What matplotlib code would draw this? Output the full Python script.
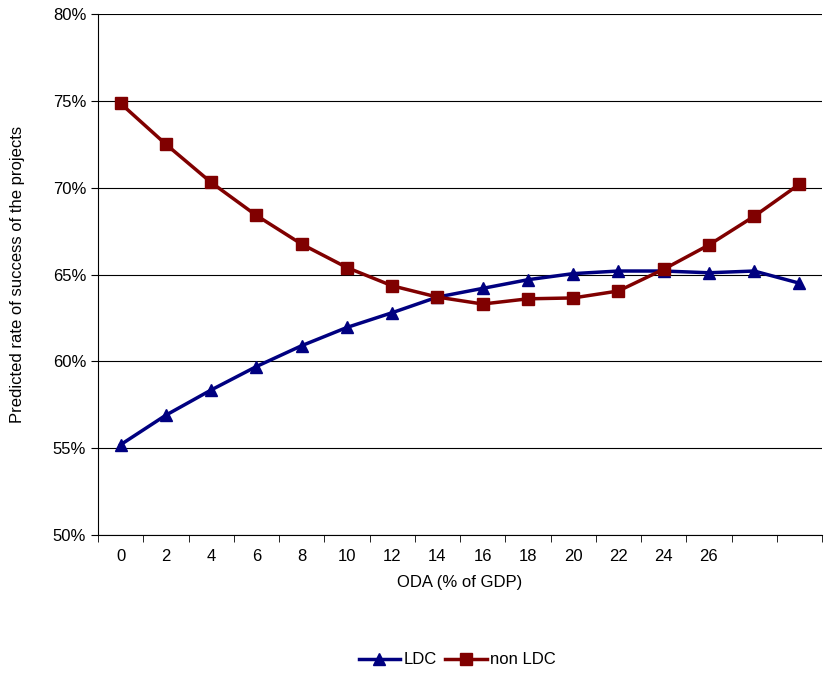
import matplotlib.pyplot as plt
import numpy as np

plt.rcParams['font.family'] = ['Liberation Sans', 'DejaVu Sans']

xlabels = ['0', '2', '4', '6', '8', '10', '12', '14', '16', '18', '20', '22', '24', '26', '', '']
ldc = [55.2, 56.9, 58.35, 59.7, 60.9, 61.95, 62.8, 63.7, 64.2, 64.7, 65.05, 65.2, 65.2, 65.1, 65.2, 64.5]
non_ldc = [74.85, 72.5, 70.3, 68.4, 66.75, 65.4, 64.35, 63.7, 63.3, 63.6, 63.65, 64.05, 65.3, 66.7, 68.35, 70.2]

fig = plt.figure(figsize=(8.24, 6.73), dpi=100)
ax = fig.add_axes([98/824, 1 - 535/673, 724/824, 521/673])

x = np.arange(len(ldc))
ax.plot(x, ldc, color='#000080', lw=2.5, marker='^', ms=9, label='LDC')
ax.plot(x, non_ldc, color='#800000', lw=2.5, marker='s', ms=9, label='non LDC')

ax.set_xlim(-0.5, len(ldc) - 0.5)
ax.set_ylim(50, 80)
ax.set_yticks(np.arange(50, 81, 5))
ax.set_yticklabels([f'{v}%' for v in range(50, 81, 5)], fontsize=12)
ax.yaxis.grid(True, color='black', lw=0.8)
ax.set_axisbelow(True)

ax.set_xticks(x)
ax.set_xticklabels(xlabels, fontsize=12)
ax.tick_params(axis='x', length=0, pad=10)
ax.set_xticks(np.arange(-0.5, len(ldc)), minor=True)
ax.tick_params(axis='x', which='minor', length=5)
ax.tick_params(axis='y', length=5)

for s in ['top', 'right']:
    ax.spines[s].set_visible(False)

ax.set_xlabel('ODA (% of GDP)', fontsize=12, labelpad=8)
ax.set_ylabel('Predicted rate of success of the projects', fontsize=12, labelpad=20)

fig.legend(loc='center', bbox_to_anchor=(0.555, 1 - 660/673), ncol=2, frameon=False,
           fontsize=12, handlelength=2.5, columnspacing=0.5, handletextpad=0.2)

fig.savefig('out.png', dpi=100)
